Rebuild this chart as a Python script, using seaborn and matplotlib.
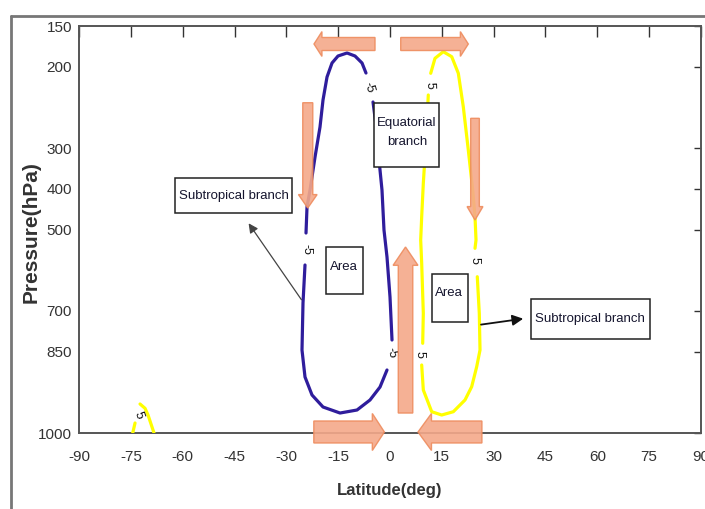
import matplotlib
matplotlib.use('Agg')
import matplotlib.pyplot as plt
import seaborn as sns
import pandas as pd
from matplotlib.patches import FancyArrow, Rectangle
from matplotlib.lines import Line2D

# pressure levels (the y axis is the level index, labelled with selected levels)
levels = [150, 200, 250, 300, 400, 500, 600, 700, 850, 925, 1000]
shown_levels = [150, 200, 300, 400, 500, 700, 850, 1000]
lat_ticks = [-90, -75, -60, -45, -30, -15, 0, 15, 30, 45, 60, 75, 90]

# -5 contour (southern cell), pieces between inline labels
neg_top_lat = [-6.95, -8.10, -10.13, -12.44, -15.05, -16.78, -18.23, -19.39, -20.26, -21.70, -23.15, -24.02, -24.31]
neg_top_lev = [1.155, 0.909, 0.737, 0.663, 0.737, 0.909, 1.253, 1.818, 2.482, 3.219, 4.029, 4.447, 5.086]
neg_bot_lat = [-24.60, -25.18, -25.47, -24.60, -22.57, -19.39, -14.47, -9.55, -5.79, -2.89, -0.87]
neg_bot_lev = [5.872, 6.806, 7.961, 8.624, 9.066, 9.361, 9.509, 9.435, 9.189, 8.870, 8.452]
neg_side_lat = [0.58, 0.0, -0.87, -1.74, -2.32, -3.18, -3.76, -4.92]
neg_side_lev = [7.715, 6.658, 5.676, 5.012, 4.029, 3.292, 2.629, 1.867]

# +5 contour (northern cell)
pos_top_lat = [11.78, 13.02, 15.42, 17.86, 19.77, 21.21, 22.66, 23.93, 24.60, 24.89, 24.60]
pos_top_lev = [1.162, 0.794, 0.631, 0.754, 1.162, 1.983, 3.047, 4.029, 4.686, 5.258, 5.462]
pos_bot_lat = [25.26, 25.84, 26.05, 25.09, 23.64, 21.70, 18.32, 14.96, 12.07, 9.64, 9.17]
pos_bot_lev = [6.160, 7.059, 7.961, 8.371, 8.862, 9.189, 9.477, 9.558, 9.477, 8.943, 8.329]
pos_side_lat = [9.46, 9.64, 9.17, 8.88, 9.17, 9.64, 10.42, 11.08]
pos_side_lev = [7.796, 7.059, 5.831, 5.258, 4.686, 3.865, 2.801, 1.695]

# small +5 contour near the south pole
polar_a_lat = [-74.46, -73.79]
polar_a_lev = [10.0, 9.754]
polar_b_lat = [-72.35, -70.90, -70.03, -68.30]
polar_b_lev = [9.287, 9.393, 9.558, 10.0]

# inline contour labels
clab_txt = ['-5', '-5', '-5', '5', '5', '5', '5']
clab_lat = [-6.08, -24.31, 0.49, 11.37, 24.60, 8.68, -72.84]
clab_lev = [1.499, 5.50, 8.034, 1.450, 5.767, 8.059, 9.558]
clab_rot = [-75, -90, -80, -88, -90, -90, -70]

BLUE = '#2f1d9c'
YELLOW = '#ffff00'
ORANGE = '#f4a98a'
ORANGE_EDGE = '#ee8c5e'

neg_parts = [(neg_top_lat, neg_top_lev), (neg_bot_lat, neg_bot_lev), (neg_side_lat, neg_side_lev)]
pos_parts = [(pos_top_lat, pos_top_lev), (pos_bot_lat, pos_bot_lev), (pos_side_lat, pos_side_lev),
             (polar_a_lat, polar_a_lev), (polar_b_lat, polar_b_lev)]


def parts_frame(parts):
    rows = []
    for i, (la, lv) in enumerate(parts):
        for a, b in zip(la, lv):
            rows.append({'Latitude': a, 'Level': b, 'seg': i})
    return pd.DataFrame(rows)


sns.set_style('white')
plt.rcParams['font.family'] = ['Liberation Sans', 'DejaVu Sans']

fig = plt.figure(figsize=(7.05, 5.09), dpi=100)
ax = fig.add_axes([0.1121, 0.1493, 0.8822, 0.7996])

sns.lineplot(data=parts_frame(neg_parts), x='Latitude', y='Level', units='seg', estimator=None,
             sort=False, color=BLUE, linewidth=2.3, ax=ax, zorder=3)
sns.lineplot(data=parts_frame(pos_parts), x='Latitude', y='Level', units='seg', estimator=None,
             sort=False, color=YELLOW, linewidth=2.3, ax=ax, zorder=3)

for t, a, b, r in zip(clab_txt, clab_lat, clab_lev, clab_rot):
    ax.text(a, b, t, rotation=r, ha='center', va='center', fontsize=9, color='#111111',
            zorder=4)

# circulation arrows
arrow_kw = dict(length_includes_head=True, facecolor=ORANGE, edgecolor=ORANGE_EDGE,
                linewidth=1, alpha=0.9, zorder=5, clip_on=False)
ax.add_patch(FancyArrow(-4.34, 0.442, -17.66, 0, width=0.32, head_width=0.61, head_length=2.3, **arrow_kw))
ax.add_patch(FancyArrow(3.1, 0.442, 19.56, 0, width=0.32, head_width=0.61, head_length=2.3, **arrow_kw))
ax.add_patch(FancyArrow(-23.8, 1.885, 0, 2.587, width=2.9, head_width=5.4, head_length=0.33, **arrow_kw))
ax.add_patch(FancyArrow(24.6, 2.268, 0, 2.499, width=2.5, head_width=4.6, head_length=0.33, **arrow_kw))
ax.add_patch(FancyArrow(4.49, 9.509, 0, -4.079, width=4.2, head_width=7.2, head_length=0.45, **arrow_kw))
ax.add_patch(FancyArrow(-22.05, 9.975, 20.43, 0, width=0.54, head_width=0.91, head_length=3.5, **arrow_kw))
ax.add_patch(FancyArrow(26.6, 9.975, -18.5, 0, width=0.54, head_width=0.91, head_length=3.9, **arrow_kw))

# annotation boxes
box_kw = dict(facecolor='white', edgecolor='#222222', linewidth=1.1, zorder=6)
text_kw = dict(ha='center', va='center', fontsize=9.5, color='#15152e', zorder=7)
ax.add_patch(Rectangle((-62.22, 3.735), 33.86, 0.86, **box_kw))
ax.text(-45.29, 4.165, 'Subtropical branch', **text_kw)
ax.add_patch(Rectangle((-18.52, 5.437), 10.62, 1.148, **box_kw))
ax.text(-13.31, 5.92, 'Area', **text_kw)
ax.add_patch(Rectangle((-4.54, 1.885), 18.81, 1.572, **box_kw))
ax.text(4.86, 2.617, 'Equatorial\nbranch', linespacing=1.8, **text_kw)
ax.add_patch(Rectangle((12.07, 6.10), 10.59, 1.165, **box_kw))
ax.text(17.16, 6.568, 'Area', **text_kw)
ax.add_patch(Rectangle((40.72, 6.708), 34.52, 0.99, **box_kw))
ax.text(57.97, 7.2, 'Subtropical branch', **text_kw)

ax.annotate('', xy=(-41.38, 4.791), xytext=(-25.18, 6.781),
            arrowprops=dict(arrowstyle='-|>', color='#444444', lw=0.9, mutation_scale=14), zorder=6)
ax.annotate('', xy=(39.36, 7.182), xytext=(25.55, 7.346),
            arrowprops=dict(arrowstyle='-|>', color='#111111', lw=1.3, mutation_scale=16), zorder=6)

# axes styling (MATLAB-like box with inward ticks)
ax.set_xlim(-90, 90)
ax.set_ylim(len(levels) - 1, 0)
ax.set_xticks(lat_ticks)
ax.set_xticklabels([str(v) for v in lat_ticks])
ax.set_yticks([levels.index(p) for p in shown_levels])
ax.set_yticklabels([str(p) for p in shown_levels])
ax.tick_params(axis='both', direction='in', top=True, right=True, labelsize=11,
               colors='#333333', labelcolor='#333333')
ax.tick_params(axis='x', length=8, width=1, pad=12)
ax.tick_params(axis='y', length=5, width=1, pad=5)
for s in ax.spines.values():
    s.set_color('#555555')
    s.set_linewidth(1.4)

ax.set_xlabel('Latitude(deg)', fontsize=12, fontweight='bold', color='#333333', labelpad=14)
ax.set_ylabel('Pressure(hPa)', fontsize=15, fontweight='bold', color='#333333')
ax.yaxis.set_label_coords(-0.062, 0.494)

# outer window frame of the screenshot
fig.add_artist(Line2D([11 / 705, 11 / 705], [0, 1 - 16 / 509], transform=fig.transFigure,
                      color='#777777', linewidth=2))
fig.add_artist(Line2D([11 / 705, 1], [1 - 16 / 509, 1 - 16 / 509], transform=fig.transFigure,
                      color='#777777', linewidth=2))

fig.savefig('out.png', dpi=100, facecolor='white')
